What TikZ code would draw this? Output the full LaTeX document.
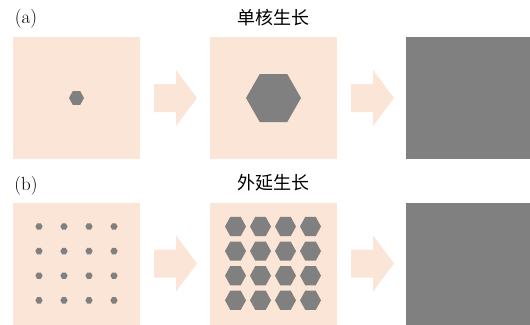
\documentclass[tikz,border=0pt]{standalone}
\usepackage{fontspec}
\newfontfamily\cjk{Noto Sans CJK SC}
\definecolor{peach}{HTML}{FBE5D6}
\definecolor{crystal}{HTML}{808080}
\newcommand{\hexat}[4]{\fill[crystal] (#1+#3,#2) -- (#1+#3/2,#2-#4) -- (#1-#3/2,#2-#4) -- (#1-#3,#2) -- (#1-#3/2,#2+#4) -- (#1+#3/2,#2+#4) -- cycle;}
\tikzset{
  substrate/.style={fill=peach, draw=none, inner sep=0pt, minimum width=127pt, minimum height=122pt},
  film/.style={fill=crystal, draw=none, inner sep=0pt, minimum width=124pt, minimum height=122pt},
  panel/.style={font=\fontsize{19}{19}\selectfont, inner sep=0pt},
  title/.style={font=\cjk\fontsize{18}{18}\selectfont, inner sep=0pt},
  pics/fatarrow/.style={code={\fill[peach] (0,-14) -- (22,-14) -- (22,-28) -- (43,0) -- (22,28) -- (22,14) -- (0,14) -- cycle;}}
}
\begin{document}
\begin{tikzpicture}[x=1pt,y=-1pt]
\useasboundingbox (0,0) rectangle (530,324);
% row (a)
\node[panel] (la) at (26,19) {(a)};
\node[title] (ta) at (273.5,18) {单核生长};
\node[substrate] (a1) at (76.5,98) {};
\node[substrate] (a2) at (273,98) {};
\node[film] (a3) at (468,98) {};
\hexat{76.5}{98}{7.5}{6.8}
\hexat{273.5}{98}{27.5}{24}
\pic at (154,98) {fatarrow};
\pic at (351,98) {fatarrow};
% row (b)
\node[panel] (lb) at (26,186) {(b)};
\node[title] (tb) at (273.5,183) {外延生长};
\node[substrate] (b1) at (76.5,263.5) {};
\node[substrate] (b2) at (273,263.5) {};
\node[film] (b3) at (468,263.5) {};
\foreach \i in {0,1,2,3}{
  \foreach \j in {0,1,2,3}{
    \hexat{39+25*\i}{226.5+24.6*\j}{3.6}{3.2}
    \hexat{235.5+25*\i}{226.5+24.6*\j}{10.5}{9.6}
  }
}
\pic at (154,263.5) {fatarrow};
\pic at (351,263.5) {fatarrow};
\end{tikzpicture}
\end{document}
